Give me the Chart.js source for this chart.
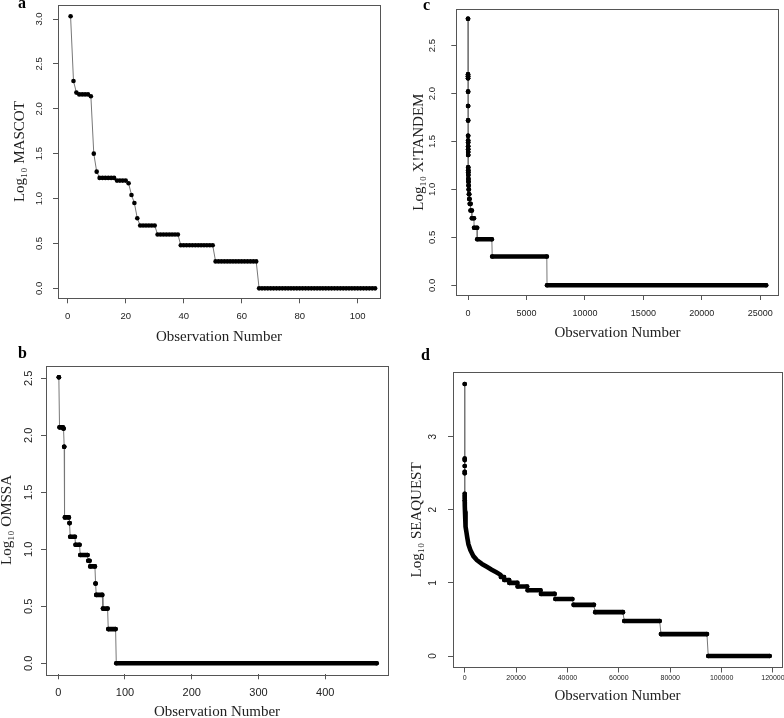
<!DOCTYPE html>
<html lang="en">
<head>
<meta charset="UTF-8">
<title>Log10 search engine counts by observation</title>
<script src="https://cdn.jsdelivr.net/npm/chart.js@4.4.0/dist/chart.umd.min.js"></script>
<style>
    html, body {
        margin: 0;
        padding: 0;
        background: #fff;
        overflow: hidden;
    }
    #page {
        position: relative;
        width: 784px;
        height: 718px;
        overflow: hidden;
    }
    canvas {
        position: absolute;
    }
    .letter {
        position: absolute;
        font-family: "Liberation Serif", "DejaVu Serif", serif;
        font-weight: bold;
        font-size: 16px;
        line-height: 16px;
        color: #000;
    }
</style>
</head>
<body>
<div id="page">
    <canvas id="chartA" width="412" height="370" style="left:-20px;top:-20px"></canvas>
    <canvas id="chartC" width="412" height="370" style="left:392px;top:-20px"></canvas>
    <canvas id="chartB" width="412" height="398" style="left:-20px;top:340px"></canvas>
    <canvas id="chartD" width="412" height="398" style="left:392px;top:340px"></canvas>
    <div class="letter" style="left:18px;top:-5px">a</div>
    <div class="letter" style="left:423px;top:-3px">c</div>
    <div class="letter" style="left:18px;top:345px">b</div>
    <div class="letter" style="left:421px;top:347px">d</div>
</div>

<script>
    // ---- panel a : MASCOT, one value per observation ----
    const aValues = [
        3.03, 2.31, 2.18, 2.16, 2.16, 2.16, 2.16, 2.14, 1.50, 1.30,
        1.23, 1.23, 1.23, 1.23, 1.23, 1.23, 1.20, 1.20, 1.20, 1.20,
        1.17, 1.04, 0.95, 0.78, 0.70, 0.70, 0.70, 0.70, 0.70, 0.70,
        0.60, 0.60, 0.60, 0.60, 0.60, 0.60, 0.60, 0.60, 0.48, 0.48,
        0.48, 0.48, 0.48, 0.48, 0.48, 0.48, 0.48, 0.48, 0.48, 0.48,
        0.30, 0.30, 0.30, 0.30, 0.30, 0.30, 0.30, 0.30, 0.30, 0.30,
        0.30, 0.30, 0.30, 0.30, 0.30, 0, 0, 0, 0, 0,
        0, 0, 0, 0, 0, 0, 0, 0, 0, 0,
        0, 0, 0, 0, 0, 0, 0, 0, 0, 0,
        0, 0, 0, 0, 0, 0, 0, 0, 0, 0,
        0, 0, 0, 0, 0, 0
    ];
    const aXTicks = [0, 20, 40, 60, 80, 100];
    const aXLabels = ['0', '20', '40', '60', '80', '100'];
    const aYTicks = [0, 0.5, 1, 1.5, 2, 2.5, 3];
    const aYLabels = ['0.0', '0.5', '1.0', '1.5', '2.0', '2.5', '3.0'];

    // ---- panel b : OMSSA, runs of equal values (first obs, last obs, level) ----
    const bRunLevel = [2.51, 2.07, 2.06, 1.90, 1.28, 1.23, 1.11, 1.04, 0.95, 0.90, 0.85, 0.70, 0.60, 0.48, 0.30, 0];
    const bRunStart = [1, 2, 8, 9, 10, 17, 18, 26, 33, 45, 48, 56, 57, 67, 75, 87];
    const bRunEnd   = [1, 7, 8, 9, 16, 17, 25, 32, 44, 47, 55, 56, 66, 74, 86, 477];
    const bXTicks = [0, 100, 200, 300, 400];
    const bXLabels = ['0', '100', '200', '300', '400'];
    const bYTicks = [0, 0.5, 1, 1.5, 2, 2.5];
    const bYLabels = ['0.0', '0.5', '1.0', '1.5', '2.0', '2.5'];

    // ---- panel c : X!TANDEM ----
    const cRunLevel = [2.78, 2.20, 2.18, 2.16, 2.02, 1.87, 1.72, 1.56, 1.51, 1.49, 1.45, 1.42, 1.39, 1.36, 1.23, 1.20,
                       1.18, 1.15, 1.11, 1.08, 1.04, 1.00, 0.95, 0.90, 0.85, 0.78, 0.70, 0.60, 0.48, 0.30, 0];
    const cRunStart = [1, 2, 3, 5, 7, 8, 9, 10, 11, 12, 13, 14, 15, 16, 17, 19,
                       22, 26, 31, 38, 47, 60, 78, 105, 150, 220, 330, 520, 790, 2070, 6760];
    const cRunEnd   = [1, 2, 4, 6, 7, 8, 9, 10, 11, 12, 13, 14, 15, 16, 18, 21,
                       25, 30, 37, 46, 59, 77, 104, 149, 219, 329, 510, 780, 2040, 6740, 25500];
    const cXTicks = [0, 5000, 10000, 15000, 20000, 25000];
    const cXLabels = ['0', '5000', '10000', '15000', '20000', '25000'];
    const cYTicks = [0, 0.5, 1, 1.5, 2, 2.5];
    const cYLabels = ['0.0', '0.5', '1.0', '1.5', '2.0', '2.5'];

    // ---- panel d : SEAQUEST ----
    // isolated high values, then the dense falling curve, then the flat runs
    const dTopObs = [1, 2, 3, 4, 5, 6, 7, 8, 9, 10];
    const dTopVal = [3.72, 2.70, 2.68, 2.60, 2.52, 2.50, 2.22, 2.19, 2.16, 2.13];
    const dCurveObs = [11, 40, 120, 270, 390, 650, 1000, 1440, 2200, 3300, 4800, 6700, 8600, 10500, 12300, 14000];
    const dCurveVal = [2.11, 2.05, 1.97, 1.86, 1.77, 1.70, 1.62, 1.53, 1.45, 1.37, 1.31, 1.26, 1.22, 1.18, 1.145, 1.11];
    const dRunLevel = [1.08, 1.04, 1.00, 0.95, 0.90, 0.85, 0.78, 0.70, 0.60, 0.48, 0.30, 0];
    const dRunStart = [14100, 15400, 17400, 20600, 24500, 29700, 35300, 42400, 50800, 62100, 76400, 94800];
    const dRunEnd   = [15300, 17300, 20500, 24300, 29500, 35000, 41900, 50300, 61600, 75900, 94300, 118700];
    const dXTicks = [0, 20000, 40000, 60000, 80000, 100000, 120000];
    const dXLabels = ['0', '20000', '40000', '60000', '80000', '100000', '120000'];
    const dYTicks = [0, 1, 2, 3];
    const dYLabels = ['0', '1', '2', '3'];

    const SANS = "'Liberation Sans', Arial, sans-serif";
    const SERIF = "'Liberation Serif', 'DejaVu Serif', serif";
    const DOT = 2.3;

    // frame drawn round the plot area, like R's box()
    const boxPlugin = {
        id: 'box',
        afterDraw(chart) {
            const { ctx, chartArea: a } = chart;
            ctx.save();
            ctx.strokeStyle = '#555';
            ctx.lineWidth = 1;
            ctx.strokeRect(Math.round(a.left) + 0.5, Math.round(a.top) + 0.5,
                Math.round(a.right - a.left), Math.round(a.bottom - a.top));
            ctx.restore();
        }
    };

    function runPoints(starts, ends, levels) {
        const pts = [];
        levels.forEach((lv, i) => {
            pts.push({ x: starts[i], y: lv }, { x: ends[i], y: lv }, { x: ends[i], y: null });
        });
        return pts;
    }

    function runPath(starts, ends, levels) {
        const pts = [];
        levels.forEach((lv, i) => {
            pts.push({ x: starts[i], y: lv }, { x: ends[i], y: lv });
        });
        return pts;
    }

    function connector(points) {
        return {
            data: points, order: 2, borderColor: '#777', borderWidth: 1,
            pointRadius: 0, tension: 0
        };
    }

    function thick(points) {
        return {
            data: points, order: 1, borderColor: '#000', borderWidth: DOT * 2,
            borderCapStyle: 'round', borderJoinStyle: 'round',
            pointRadius: DOT, pointBackgroundColor: '#000', pointBorderWidth: 0,
            spanGaps: false, tension: 0
        };
    }

    // p: canvas rect (absolute), box: plot area (absolute), scales and text settings
    function makePanel(id, p) {
        const [cl, ct, cw, ch] = p.canvas;
        const [L, T, R, B] = p.box;
        new Chart(document.getElementById(id), {
            type: 'line',
            data: { datasets: p.datasets },
            options: {
                responsive: false,
                animation: false,
                events: [],
                layout: { padding: { left: 0, top: T - ct, right: cl + cw - R, bottom: 0 } },
                plugins: { legend: { display: false }, tooltip: { enabled: false } },
                scales: {
                    x: {
                        type: 'linear',
                        min: p.xRange[0], max: p.xRange[1],
                        afterBuildTicks: s => { s.ticks = p.xTicks.map(v => ({ value: v })); },
                        afterFit: s => { s.height = ct + ch - B; },
                        border: { display: false },
                        grid: { drawOnChartArea: false, drawTicks: true, tickLength: 5, color: '#555' },
                        ticks: {
                            autoSkip: false, maxRotation: 0, color: '#222',
                            padding: p.xTickPad, font: { family: SANS, size: p.xTickSize },
                            callback: (v, i) => p.xLabels[i]
                        },
                        title: {
                            display: true, text: 'Observation Number', color: '#222',
                            font: { family: SERIF, size: 15, lineHeight: 1.2 },
                            padding: { top: 0, bottom: p.xTitlePad }
                        }
                    },
                    y: {
                        type: 'linear',
                        min: p.yRange[0], max: p.yRange[1],
                        afterBuildTicks: s => { s.ticks = p.yTicks.map(v => ({ value: v })); },
                        afterFit: s => { s.width = L - cl; },
                        border: { display: false },
                        grid: { drawOnChartArea: false, drawTicks: true, tickLength: 5, color: '#555' },
                        ticks: {
                            autoSkip: false, minRotation: 90, maxRotation: 90, crossAlign: 'center',
                            color: '#222', padding: p.yTickPad,
                            font: { family: SANS, size: p.yTickSize },
                            callback: (v, i) => p.yLabels[i]
                        },
                        title: {
                            display: true, text: p.yTitle, color: '#222',
                            font: { family: SERIF, size: 15, lineHeight: 1.2 },
                            padding: { top: p.yTitlePad, bottom: 0 }
                        }
                    }
                }
            },
            plugins: [boxPlugin]
        });
    }

    // panel a
    const aPoints = aValues.map((v, i) => ({ x: i + 1, y: v }));
    makePanel('chartA', {
        canvas: [-20, -20, 412, 370], box: [58, 5, 380, 298.3],
        xRange: [-3.34, 107.69], yRange: [-0.111, 3.156],
        xTicks: aXTicks, xLabels: aXLabels, yTicks: aYTicks, yLabels: aYLabels,
        xTickSize: 9.5, xTickPad: 7, yTickSize: 9.5, yTickPad: 7,
        xTitlePad: 4, yTitlePad: 31, yTitle: 'Log\u2081\u2080 MASCOT',
        datasets: [{
            data: aPoints, borderColor: '#777', borderWidth: 1, tension: 0,
            pointRadius: DOT, pointBackgroundColor: '#000', pointBorderWidth: 0
        }]
    });

    // panel c
    makePanel('chartC', {
        canvas: [392, -20, 412, 370], box: [456.3, 9.3, 778.7, 295],
        xRange: [-1001, 26574], yRange: [-0.101, 2.879],
        xTicks: cXTicks, xLabels: cXLabels, yTicks: cYTicks, yLabels: cYLabels,
        xTickSize: 9, xTickPad: 8.6, yTickSize: 9.5, yTickPad: 12.4,
        xTitlePad: 8, yTitlePad: 18, yTitle: 'Log\u2081\u2080 X!TANDEM',
        datasets: [
            thick(runPoints(cRunStart, cRunEnd, cRunLevel)),
            connector(runPath(cRunStart, cRunEnd, cRunLevel))
        ]
    });

    // panel b
    makePanel('chartB', {
        canvas: [-20, 340, 412, 398], box: [46, 365.7, 391, 674.3],
        xRange: [-18.26, 494.0], yRange: [-0.0965, 2.611],
        xTicks: bXTicks, xLabels: bXLabels, yTicks: bYTicks, yLabels: bYLabels,
        xTickSize: 11, xTickPad: 7.4, yTickSize: 11, yTickPad: 4.4,
        xTitlePad: 17.4, yTitlePad: 18, yTitle: 'Log\u2081\u2080 OMSSA',
        datasets: [
            thick(runPoints(bRunStart, bRunEnd, bRunLevel)),
            connector(runPath(bRunStart, bRunEnd, bRunLevel))
        ]
    });

    // panel d
    const dTop = dTopObs.map((x, i) => ({ x, y: dTopVal[i] }));
    const dCurve = dCurveObs.map((x, i) => ({ x, y: dCurveVal[i] }));
    const dTopDots = [];
    dTop.forEach(p => dTopDots.push(p, { x: p.x, y: null }));
    makePanel('chartD', {
        canvas: [392, 340, 412, 398], box: [453, 372.3, 782, 667.5],
        xRange: [-4554, 123511], yRange: [-0.157, 3.881],
        xTicks: dXTicks, xLabels: dXLabels, yTicks: dYTicks, yLabels: dYLabels,
        xTickSize: 7, xTickPad: 1, yTickSize: 10, yTickPad: 12.2,
        xTitlePad: 33, yTitlePad: 16, yTitle: 'Log\u2081\u2080 SEAQUEST',
        datasets: [
            thick(dTopDots),
            Object.assign(thick(dCurve), { pointRadius: 0 }),
            thick(runPoints(dRunStart, dRunEnd, dRunLevel)),
            connector(dTop.concat(dCurve, runPath(dRunStart, dRunEnd, dRunLevel)))
        ]
    });
</script>
</body>
</html>
